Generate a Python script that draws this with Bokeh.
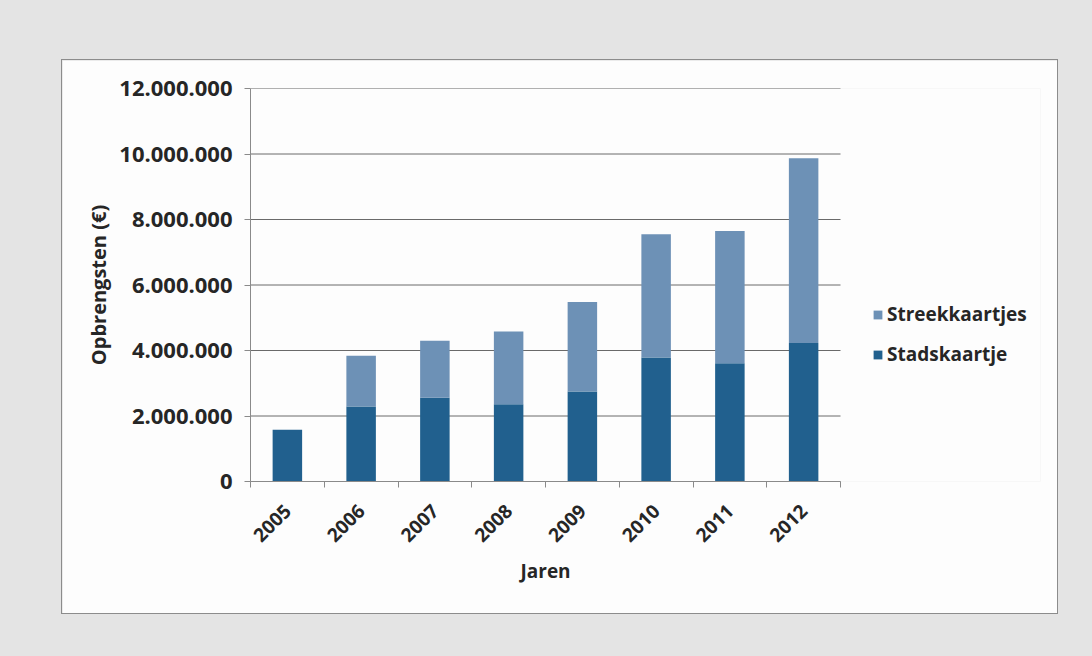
from bokeh.plotting import figure
from bokeh.models import (ColumnDataSource, FixedTicker, Legend, LegendItem,
                          Range1d, Title)
from bokeh.layouts import column
from bokeh.embed import file_html
from bokeh.resources import INLINE
import math

# Revenue per year, split by ticket type (euro)
years = ["2005", "2006", "2007", "2008", "2009", "2010", "2011", "2012"]
stadskaartje = [1580000, 2290000, 2560000, 2360000, 2750000, 3790000, 3610000, 4230000]
streekkaartjes = [0, 1550000, 1740000, 2220000, 2730000, 3760000, 4040000, 5640000]

y_ticks = [0, 2000000, 4000000, 6000000, 8000000, 10000000, 12000000]
y_tick_labels = ["0", "2.000.000", "4.000.000", "6.000.000", "8.000.000",
                 "10.000.000", "12.000.000"]

DARK = "#21608e"
LIGHT = "#6d91b6"
TEXT = "#262626"
GRID = "#6a6a6a"
FONT = "Open Sans"

n = len(years)
xpos = [i + 0.5 for i in range(n)]
source = ColumnDataSource(dict(x=xpos, year=years,
                               stad=stadskaartje, streek=streekkaartjes))
grid_src = ColumnDataSource(dict(x0=[0] * len(y_ticks), x1=[n] * len(y_ticks),
                                 y=y_ticks))

# the frame reaches to the right edge so the legend can sit beside the bars;
# the category area takes the first 590 of its 790 pixels
FRAME_W, CAT_W = 790, 590
p = figure(width=995, height=553, output_backend="svg", toolbar_location=None,
           x_range=Range1d(0, n * FRAME_W / CAT_W), y_range=Range1d(0, 12000000),
           min_border_left=188, min_border_right=17,
           min_border_top=28, min_border_bottom=132)
p.border_fill_color = "#fdfdfd"
p.background_fill_color = "#fdfdfd"
p.outline_line_color = None

# horizontal gridlines limited to the category area
p.segment(x0="x0", x1="x1", y0="y", y1="y", source=grid_src,
          line_color=GRID, line_width=1)

renderers = p.vbar_stack(["stad", "streek"], x="x", width=0.4, source=source,
                         color=[DARK, LIGHT], line_color=None)

# y axis
p.yaxis.ticker = FixedTicker(ticks=y_ticks)
p.yaxis.major_label_overrides = {t: l for t, l in zip(y_ticks, y_tick_labels)}
p.yaxis.axis_label = "Opbrengsten (€)"
p.yaxis.minor_tick_line_color = None
p.yaxis.major_tick_in = 0
p.yaxis.major_tick_out = 6
p.yaxis.major_tick_line_color = "#8a8a8a"
p.yaxis.axis_line_color = "#8a8a8a"
p.yaxis.major_label_text_font_size = "22px"
p.yaxis.axis_label_text_font_size = "20px"
p.yaxis.major_label_standoff = 12
p.yaxis.axis_label_standoff = 4

# x axis: labels centred on the bars, tick marks between categories
p.xaxis.ticker = FixedTicker(ticks=xpos, minor_ticks=list(range(n + 1)))
p.xaxis.bounds = (0, n)
p.xaxis.major_label_overrides = {x: y for x, y in zip(xpos, years)}
p.xaxis.major_label_orientation = math.pi / 4
p.xaxis.major_tick_in = 0
p.xaxis.major_tick_out = 0
p.xaxis.minor_tick_in = 0
p.xaxis.minor_tick_out = 6
p.xaxis.minor_tick_line_color = "#8a8a8a"
p.xaxis.axis_line_color = "#8a8a8a"
p.xaxis.major_label_text_font_size = "19px"
p.xaxis.major_label_standoff = 20

for ax in (p.xaxis, p.yaxis):
    ax.major_label_text_font = FONT
    ax.major_label_text_font_style = "bold"
    ax.major_label_text_color = TEXT
    ax.axis_label_text_font = FONT
    ax.axis_label_text_font_style = "bold"
    ax.axis_label_text_color = TEXT

# x axis title, placed under the middle of the bars
p.add_layout(Title(text="Jaren", align="left", offset=270, standoff=8,
                   text_font=FONT, text_font_style="bold",
                   text_font_size="19px", text_color=TEXT), "below")

p.xgrid.grid_line_color = None
p.ygrid.grid_line_color = None

legend = Legend(items=[LegendItem(label="Streekkaartjes", renderers=[renderers[1]]),
                       LegendItem(label="Stadskaartje", renderers=[renderers[0]])],
                location=(622, 114))
legend.background_fill_alpha = 0
legend.border_line_color = None
legend.label_text_font = FONT
legend.label_text_font_style = "bold"
legend.label_text_font_size = "19px"
legend.label_text_color = TEXT
legend.glyph_width = 11
legend.glyph_height = 11
legend.label_standoff = 4
legend.spacing = 14
legend.padding = 4
p.add_layout(legend)

p.margin = (60, 0, 0, 62)
p.styles = {"outline": "1px solid #8c8c8c"}

root = column(p, width=1092, height=656,
              styles={"background-color": "#e4e4e4"})

open("out.html", "w").write(file_html(root, INLINE))
